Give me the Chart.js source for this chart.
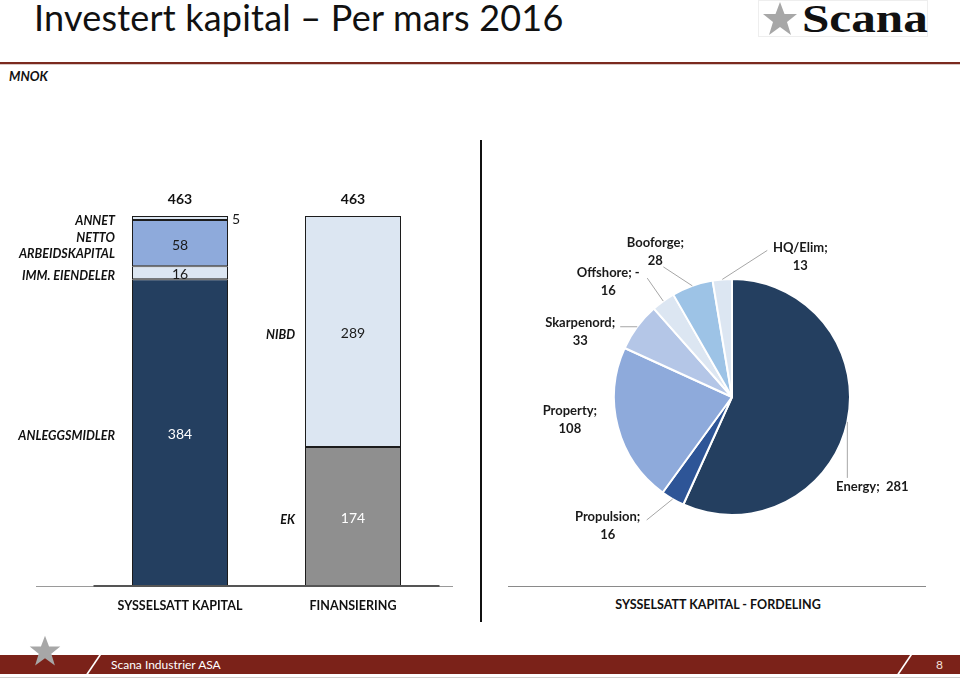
<!DOCTYPE html>
<html><head><meta charset="utf-8">
<script src="https://cdn.jsdelivr.net/npm/chart.js@4"></script>
<style>
html,body{margin:0;padding:0;background:#fff;}
body{width:960px;height:681px;position:relative;overflow:hidden;font-family:Lato,"Open Sans",sans-serif;color:#111;}
.abs{position:absolute;}
#title{left:34px;top:-6px;font-size:36px;line-height:46px;white-space:nowrap;letter-spacing:0.2px;}
#logo{left:758px;top:0px;width:170px;height:37px;border:1px solid #eee;box-sizing:border-box;}
#logoText{left:802px;top:-6px;font-family:"Liberation Serif","DejaVu Serif",serif;font-weight:bold;font-size:41px;line-height:48px;transform:scaleX(1.2);transform-origin:0 0;}
#hline{left:0;top:62px;width:960px;height:2px;background:#7b2a1f;}
#hline2{left:0;top:64px;width:960px;height:1px;background:#d8c8c6;}
#mnok{left:9px;top:68px;font-size:13px;font-weight:bold;font-style:italic;}
#sep{left:480px;top:140px;width:2px;height:482px;background:#111;}
#pieBase{left:508px;top:586px;width:418px;height:1px;background:#8a8a8a;}
#pieTitle{left:508px;top:597px;width:420px;text-align:center;font-size:12.5px;font-weight:bold;}
#band{left:0;top:655px;width:960px;height:19px;background:#7b2219;}
#band2{left:0;top:677px;width:960px;height:1px;background:#cfcfcf;}
#footText{left:111px;top:657px;font-size:12px;color:#fff;line-height:16px;}
#pageNo{left:936px;top:657px;font-size:12px;color:#f3e0dc;line-height:16px;}
.slash{top:652px;width:2px;height:24px;background:#fff;transform:skewX(-34deg);}
</style></head>
<body>
<div id="title" class="abs">Investert kapital – Per mars 2016</div>
<div id="logo" class="abs"></div>
<svg class="abs" style="left:760px;top:1px" width="40" height="36" viewBox="0 0 40 36"><polygon points="20,1 24.5,13 37,13 27,21 31,34 20,26 9,34 13,21 3,13 15.5,13" fill="#a7a7a7"/></svg>
<div id="logoText" class="abs">Scana</div>
<div id="hline" class="abs"></div><div id="hline2" class="abs"></div>
<div id="mnok" class="abs">MNOK</div>
<div id="sep" class="abs"></div>
<div id="pieBase" class="abs"></div>
<div id="pieTitle" class="abs">SYSSELSATT KAPITAL - FORDELING</div>
<div id="band" class="abs"></div><div id="band2" class="abs"></div>
<div class="abs slash" style="left:93px"></div>
<div class="abs slash" style="left:904px"></div>
<div id="footText" class="abs">Scana Industrier ASA</div>
<div id="pageNo" class="abs">8</div>
<svg class="abs" style="left:27px;top:634px" width="36" height="34" viewBox="0 0 40 36"><polygon points="20,1 24.5,13 37,13 27,21 31,34 20,26 9,34 13,21 3,13 15.5,13" fill="#a7a7a7"/></svg>

<canvas id="bar" class="abs" style="left:0;top:150px" width="480" height="480"></canvas>
<canvas id="pie" class="abs" style="left:490px;top:150px" width="470" height="440"></canvas>

<script>
// ---- data ----
const barCategories = ['SYSSELSATT KAPITAL', 'FINANSIERING'];
const anleggsmidler = [384, null];
const immEiendeler = [16, null];
const nettoArbeidskapital = [58, null];
const annet = [5, null];
const ek = [null, 174];
const nibd = [null, 289];
const barTotals = [463, 463];

const pieLabels = ['Energy', 'Propulsion', 'Property', 'Skarpenord', 'Offshore', 'Booforge', 'HQ/Elim'];
const pieValues = [281, 16, 108, 33, -16, 28, 13];

// ---- styles ----
const FONT = 'Lato, "Open Sans", sans-serif';
const barSeries = [
  {label: 'ANLEGGSMIDLER', lines: ['ANLEGGSMIDLER'], data: anleggsmidler, bg: '#243f60', vc: '#ffffff'},
  {label: 'IMM. EIENDELER', lines: ['IMM. EIENDELER'], data: immEiendeler, bg: '#dce6f2', vc: '#1a1a1a'},
  {label: 'NETTO ARBEIDSKAPITAL', lines: ['NETTO', 'ARBEIDSKAPITAL'], data: nettoArbeidskapital, bg: '#8eaadb', vc: '#1a1a1a'},
  {label: 'ANNET', lines: ['ANNET'], data: annet, bg: '#dce6f2', vc: '#1a1a1a', outside: true},
  {label: 'EK', lines: ['EK'], data: ek, bg: '#8f8f8f', vc: '#ffffff'},
  {label: 'NIBD', lines: ['NIBD'], data: nibd, bg: '#dce6f2', vc: '#1a1a1a'}
];
const pieColors = ['#243f60', '#2e5597', '#8eaadb', '#b4c6e7', '#dce6f2', '#9dc3e6', '#dce6f2'];
// label placement relative to slice edge point: text centre offset, leader end offset
const pieLabelLayout = [
  {t: [25, 65], l: [0, 56], oneLine: true},
  {t: [-65, 27], l: [-26, 21]},
  {t: [-48, -7], l: null},
  {t: [-57, 5], l: [-17, 0]},
  {t: [-55, -19], l: [-16, -23]},
  {t: [-37, -34], l: [-29, -19]},
  {t: [78, -23], l: [45, -29]}
];

// ---- bar chart ----
const barLabelPlugin = {
  id: 'barLabels',
  afterDatasetsDraw(chart) {
    const ctx = chart.ctx;
    const y0 = chart.scales.y.getPixelForValue(0);
    const xs = chart.scales.x;
    ctx.save();
    // baseline
    ctx.strokeStyle = '#9a9a9a'; ctx.lineWidth = 1;
    ctx.beginPath(); ctx.moveTo(36, y0 + 0.5); ctx.lineTo(453, y0 + 0.5); ctx.stroke();
    ctx.strokeStyle = '#555'; ctx.lineWidth = 2;
    ctx.beginPath(); ctx.moveTo(chart.chartArea.left, y0); ctx.lineTo(chart.chartArea.right, y0); ctx.stroke();
    ctx.textBaseline = 'middle';
    const labOff = [17, 10];
    chart.data.datasets.forEach((ds, di) => {
      const meta = chart.getDatasetMeta(di);
      meta.data.forEach((el, i) => {
        const v = ds.data[i];
        if (v === null || v === undefined) return;
        const cy = (el.y + el.base) / 2;
        const left = el.x - el.width / 2;
        // value
        ctx.font = '14px ' + FONT;
        if (ds.outside) {
          ctx.fillStyle = '#1a1a1a'; ctx.textAlign = 'left';
          ctx.fillText(String(v), el.x + el.width / 2 + 4, cy + 1);
        } else {
          ctx.fillStyle = ds.vc; ctx.textAlign = 'center';
          ctx.fillText(String(v), el.x, cy + 2);
        }
        // category name
        ctx.font = 'italic bold 12.5px ' + FONT;
        ctx.fillStyle = '#111'; ctx.textAlign = 'right';
        const n = ds.lines.length;
        ds.lines.forEach((t, k) => {
          ctx.fillText(t, left - labOff[i], cy + 3 + (k - (n - 1) / 2) * 16);
        });
      });
    });
    // totals and category labels
    barCategories.forEach((c, i) => {
      const x = xs.getPixelForValue(i);
      ctx.font = 'bold 14px ' + FONT; ctx.fillStyle = '#111'; ctx.textAlign = 'center';
      ctx.fillText(String(barTotals[i]), x, chart.scales.y.getPixelForValue(barTotals[i]) - 17);
      ctx.font = 'bold 12.5px ' + FONT;
      ctx.fillText(c, x, y0 + 20);
    });
    ctx.restore();
  }
};

new Chart(document.getElementById('bar'), {
  type: 'bar',
  data: {
    labels: barCategories,
    datasets: barSeries.map(s => ({
      label: s.label, lines: s.lines, data: s.data, backgroundColor: s.bg, vc: s.vc, outside: !!s.outside,
      borderColor: '#1c1c1c', borderWidth: 1, borderSkipped: false,
      categoryPercentage: 0.555, barPercentage: 1
    }))
  },
  options: {
    responsive: false, animation: false,
    layout: {padding: {left: 93.5, right: 40.5, top: 66, bottom: 44}},
    scales: {
      x: {display: false, stacked: true},
      y: {display: false, stacked: true, min: 0, max: 463}
    },
    plugins: {legend: {display: false}, tooltip: {enabled: false}}
  },
  plugins: [barLabelPlugin]
});

// ---- pie chart ----
const pieLabelPlugin = {
  id: 'pieLabels',
  afterDatasetsDraw(chart) {
    const ctx = chart.ctx;
    const meta = chart.getDatasetMeta(0);
    ctx.save();
    ctx.font = 'bold 13px ' + FONT;
    ctx.textAlign = 'center'; ctx.textBaseline = 'middle';
    meta.data.forEach((arc, i) => {
      const p = arc.getProps(['x', 'y', 'startAngle', 'endAngle', 'outerRadius'], true);
      const mid = (p.startAngle + p.endAngle) / 2;
      const ex = p.x + Math.cos(mid) * p.outerRadius;
      const ey = p.y + Math.sin(mid) * p.outerRadius;
      const lay = pieLabelLayout[i];
      if (lay.l) {
        ctx.strokeStyle = '#a6a6a6'; ctx.lineWidth = 1;
        ctx.beginPath(); ctx.moveTo(ex, ey); ctx.lineTo(ex + lay.l[0], ey + lay.l[1]); ctx.stroke();
      }
      const v = pieValues[i];
      const vs = String(v);
      let lines;
      if (lay.oneLine) lines = [pieLabels[i] + ';  ' + vs];
      else if (v < 0) lines = [pieLabels[i] + '; -', vs.slice(1)];
      else lines = [pieLabels[i] + ';', vs];
      ctx.fillStyle = '#1a1a1a';
      const n = lines.length;
      lines.forEach((t, k) => ctx.fillText(t, ex + lay.t[0], ey + lay.t[1] + (k - (n - 1) / 2) * 18));
    });
    ctx.restore();
  }
};

new Chart(document.getElementById('pie'), {
  type: 'pie',
  data: {
    labels: pieLabels,
    datasets: [{
      data: pieValues.map(Math.abs),
      backgroundColor: pieColors,
      borderColor: '#ffffff', borderWidth: 2
    }]
  },
  options: {
    responsive: false, animation: false,
    radius: 118,
    layout: {padding: {left: 122, right: 108, top: 127, bottom: 73}},
    plugins: {legend: {display: false}, tooltip: {enabled: false}}
  },
  plugins: [pieLabelPlugin]
});
</script>
</body></html>
